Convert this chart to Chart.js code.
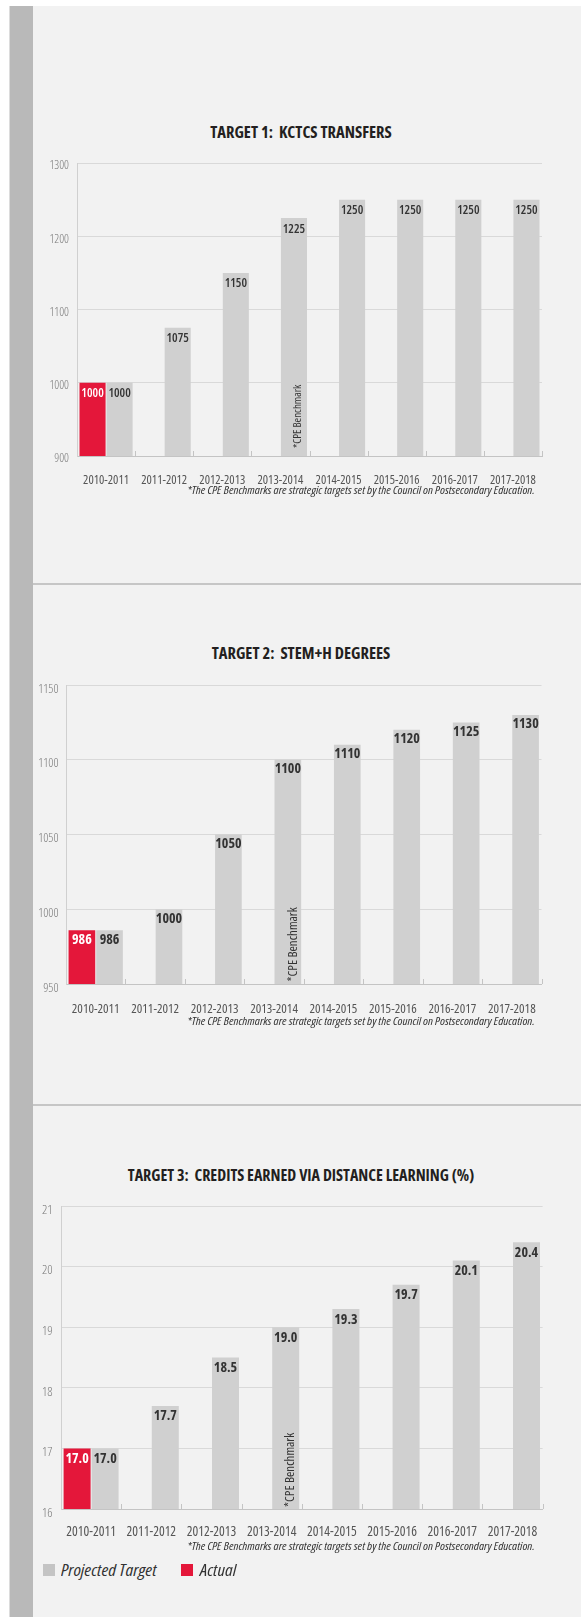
<!DOCTYPE html>
<html>
<head>
<meta charset="utf-8">
<script src="https://cdn.jsdelivr.net/npm/chart.js@4.4.1/dist/chart.umd.min.js"></script>
<style>
html,body{margin:0;padding:0;background:#fff;}
body{width:581px;height:1617px;position:relative;overflow:hidden;font-family:'Open Sans',sans-serif;font-stretch:75%;}
#stripe{position:absolute;left:9px;top:6px;width:24px;height:1611px;background:#b9b9b9;border-left:1px solid #dcdcdc;box-sizing:border-box;}
#panel{position:absolute;left:33px;top:6px;width:548px;height:1611px;background:#f2f2f2;}
.divider{position:absolute;left:33px;width:548px;height:2px;background:#c6c6c6;}
.title{position:absolute;left:0;width:602px;text-align:center;font-weight:700;color:#231f20;line-height:20px;white-space:pre;}
.note{position:absolute;right:46px;font-style:italic;font-size:11.5px;color:#333;line-height:14px;white-space:nowrap;transform:scaleX(1.07);transform-origin:100% 50%;}
canvas{position:absolute;left:0;}
.lg-box{position:absolute;width:12px;height:12px;}
.lg-text{position:absolute;font-style:italic;font-size:17px;color:#333;line-height:20px;white-space:nowrap;transform:scaleX(1.09);transform-origin:0 50%;}
</style>
</head>
<body>
<div id="stripe"></div>
<div id="panel"></div>
<div class="divider" style="top:583px"></div>
<div class="divider" style="top:1104px"></div>

<div class="title" id="title1" style="top:122px;font-size:16.5px"></div>
<div class="title" id="title2" style="top:643px;font-size:16.5px"></div>
<div class="title" id="title3" style="top:1165px;font-size:16px"></div>

<canvas id="c1"></canvas>
<canvas id="c2"></canvas>
<canvas id="c3"></canvas>

<div class="note" id="note1" style="top:483px"></div>
<div class="note" id="note2" style="top:1014px"></div>
<div class="note" id="note3" style="top:1539px"></div>

<div class="lg-box" style="left:43px;top:1564px;background:#c4c4c4"></div>
<div class="lg-text" id="lg1" style="left:61px;top:1560px"></div>
<div class="lg-box" style="left:181px;top:1564px;background:#e4173a"></div>
<div class="lg-text" id="lg2" style="left:200px;top:1560px"></div>

<script>
// ---------- data ----------
const categories = ['2010-2011', '2011-2012', '2012-2013', '2013-2014', '2014-2015', '2015-2016', '2016-2017', '2017-2018'];

const t1Actual    = [1000, null, null, null, null, null, null, null];
const t1Projected = [1000, 1075, 1150, 1225, 1250, 1250, 1250, 1250];
const t1Ticks     = [900, 1000, 1100, 1200, 1300];

const t2Actual    = [986, null, null, null, null, null, null, null];
const t2Projected = [986, 1000, 1050, 1100, 1110, 1120, 1125, 1130];
const t2Ticks     = [950, 1000, 1050, 1100, 1150];

const t3Actual    = [17.0, null, null, null, null, null, null, null];
const t3Projected = [17.0, 17.7, 18.5, 19.0, 19.3, 19.7, 20.1, 20.4];
const t3Ticks     = [16, 17, 18, 19, 20, 21];

const titles = ['TARGET 1:  KCTCS TRANSFERS', 'TARGET 2:  STEM+H DEGREES', 'TARGET 3:  CREDITS EARNED VIA DISTANCE LEARNING (%)'];
const seriesNames = ['Actual', 'Projected Target'];
const benchmarkCategory = '2013-2014';
const benchmarkText = '*CPE Benchmark';
const noteText = '*The CPE Benchmarks are strategic targets set by the Council on Postsecondary Education.';

// ---------- text ----------
titles.forEach((t, i) => document.getElementById('title' + (i + 1)).textContent = t);
[1, 2, 3].forEach(i => document.getElementById('note' + i).textContent = noteText);
document.getElementById('lg1').textContent = seriesNames[1];
document.getElementById('lg2').textContent = seriesNames[0];

// ---------- drawing ----------
const FAMILY = "'Open Sans',sans-serif";
const RED = '#e4173a';
const GRAY = '#d0d0d0';

function boundaryTicksPlugin(color, length) {
  return {
    id: 'boundaryTicks',
    beforeDatasetsDraw(chart) {
      const xs = chart.scales.x, area = chart.chartArea, ctx = chart.ctx;
      const n = chart.data.labels.length;
      const half = (xs.getPixelForValue(1) - xs.getPixelForValue(0)) / 2;
      ctx.save();
      ctx.strokeStyle = color;
      ctx.lineWidth = 1;
      for (let i = 0; i < n; i++) {
        const x = Math.round(xs.getPixelForValue(i) + half) + 0.5;
        ctx.beginPath();
        ctx.moveTo(x, area.bottom);
        ctx.lineTo(x, area.bottom - length);
        ctx.stroke();
      }
      ctx.restore();
    }
  };
}

function barValuesPlugin(size, weight, dy, decimals) {
  return {
    id: 'barValues',
    afterDatasetsDraw(chart) {
      const ctx = chart.ctx;
      chart.data.datasets.forEach((ds, di) => {
        const meta = chart.getDatasetMeta(di);
        meta.data.forEach((el, i) => {
          const v = ds.data[i];
          if (v === null || v === undefined) return;
          ctx.save();
          ctx.font = weight + ' condensed ' + size + 'px ' + FAMILY;
          ctx.textAlign = 'center';
          ctx.textBaseline = 'middle';
          ctx.fillStyle = di === 0 ? '#ffffff' : '#333333';
          ctx.fillText(v.toFixed(decimals), el.x, el.y + dy);
          ctx.restore();
        });
      });
    }
  };
}

function cpeNotePlugin(size, dx, dy) {
  return {
    id: 'cpeNote',
    afterDatasetsDraw(chart) {
      const idx = chart.data.labels.indexOf(benchmarkCategory);
      if (idx < 0) return;
      const el = chart.getDatasetMeta(1).data[idx];
      const ys = chart.scales.y;
      const base = ys.getPixelForValue(ys.min);
      const ctx = chart.ctx;
      ctx.save();
      ctx.translate(el.x + dx, base - dy);
      ctx.rotate(-Math.PI / 2);
      ctx.font = 'condensed ' + size + 'px ' + FAMILY;
      ctx.fillStyle = '#333';
      ctx.textAlign = 'left';
      ctx.textBaseline = 'middle';
      ctx.fillText(benchmarkText, 0, 0);
      ctx.restore();
    }
  };
}

function makeChart(id, cfg, actual, projected, ticks) {
  const canvas = document.getElementById(id);
  const padTop = 20;
  const xh = 34;
  const top = cfg.top - padTop;
  const height = cfg.bottom - top + xh;
  canvas.width = 581;
  canvas.height = height;
  canvas.style.width = '581px';
  canvas.style.height = height + 'px';
  canvas.style.top = top + 'px';
  return new Chart(canvas, {
    type: 'bar',
    data: {
      labels: categories,
      datasets: [
        { label: seriesNames[0], data: actual, backgroundColor: RED },
        { label: seriesNames[1], data: projected, backgroundColor: GRAY }
      ]
    },
    options: {
      responsive: false,
      animation: false,
      devicePixelRatio: 1,
      layout: { padding: { top: padTop, right: 581 - cfg.right, bottom: 0, left: 0 } },
      datasets: { bar: { categoryPercentage: 0.93, barPercentage: 0.965 } },
      plugins: { legend: { display: false }, tooltip: { enabled: false } },
      scales: {
        x: {
          grid: { display: false },
          border: { display: true, color: '#c4c4c4', width: 1 },
          ticks: { color: '#555', font: { family: FAMILY, size: cfg.xSize, weight: 'normal condensed' }, padding: cfg.xPad, maxRotation: 0, autoSkip: false },
          afterFit(s) { s.height = xh; }
        },
        y: {
          min: ticks[0],
          max: ticks[ticks.length - 1],
          grid: { color: '#d9d9d9', drawTicks: false, lineWidth: 1 },
          border: { display: true, color: '#d0d0d0', width: 1 },
          ticks: { stepSize: ticks[1] - ticks[0], color: '#7a7a7a', font: { family: FAMILY, size: cfg.ySize, weight: '300 condensed' }, padding: cfg.yPad, labelOffset: cfg.yOff, callback: v => String(v) },
          afterFit(s) { s.width = cfg.left; }
        }
      }
    },
    plugins: [
      boundaryTicksPlugin('#c4c4c4', 5),
      barValuesPlugin(cfg.valSize, cfg.valWeight, cfg.valDy, cfg.decimals),
      cpeNotePlugin(cfg.cpeSize, cfg.cpeDx, cfg.cpeDy)
    ]
  });
}

makeChart('c1', { left: 77, right: 542, top: 163, bottom: 456, ySize: 12, yPad: 8, yOff: 3, xSize: 12.5, xPad: 8.5, valSize: 12.5, valWeight: 600, valDy: 11, decimals: 0, cpeSize: 11, cpeDx: 4, cpeDy: 8 }, t1Actual, t1Projected, t1Ticks);
makeChart('c2', { left: 66, right: 541.5, top: 685, bottom: 984, ySize: 12.5, yPad: 7.5, yOff: 4, xSize: 13, xPad: 9, valSize: 14, valWeight: 700, valDy: 9.5, decimals: 0, cpeSize: 12.9, cpeDx: 5, cpeDy: 2.5 }, t2Actual, t2Projected, t2Ticks);
makeChart('c3', { left: 61, right: 542.6, top: 1206, bottom: 1509.3, ySize: 13, yPad: 8.5, yOff: 4, xSize: 13.5, xPad: 7.5, valSize: 14, valWeight: 700, valDy: 10.5, decimals: 1, cpeSize: 12.9, cpeDx: 4.6, cpeDy: 2 }, t3Actual, t3Projected, t3Ticks);
</script>
</body>
</html>
